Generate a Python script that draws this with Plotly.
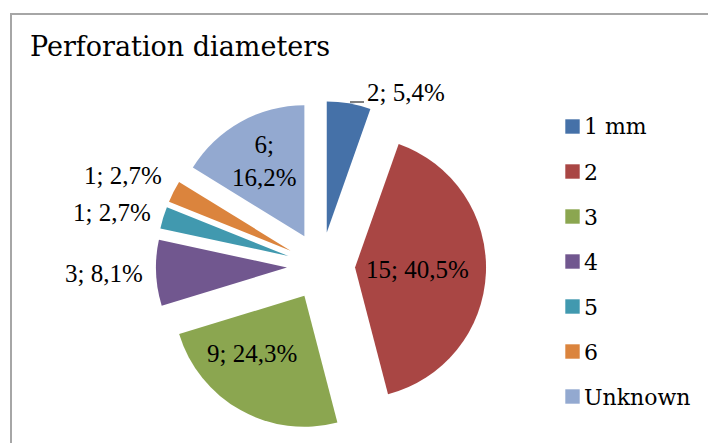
import plotly.graph_objects as go

# Perforation diameter counts
categories = ["1 mm", "2", "3", "4", "5", "6", "Unknown"]
counts = [2, 15, 9, 3, 1, 1, 6]
colors = ["#4571A8", "#A94644", "#8BA650", "#71578F", "#4199AF", "#DB843D", "#93A9D0"]

W, H = 708, 443

total = sum(counts)


def fmt_label(v):
    pct = f"{v / total * 100:.1f}".replace(".", ",")
    return f"{v}; {pct}%"


labels_txt = [fmt_label(v) for v in counts]
labels_txt[6] = labels_txt[6].replace(" ", "<br>", 1)

# exploded slices
pulls = [0.26] * len(counts)

# pie box in pixels: centre (321, 266), radius 131 after pull shrink
cx, cy, r = 321, 266, 131
half = r * (1 + max(pulls))
dom_x = [(cx - half) / W, (cx + half) / W]
dom_y = [1 - (cy + half) / H, 1 - (cy - half) / H]

fig = go.Figure(
    go.Pie(
        labels=categories,
        values=counts,
        marker=dict(colors=colors, line=dict(width=0)),
        sort=False,
        direction="clockwise",
        rotation=0,
        pull=pulls,
        textinfo="none",
        hoverinfo="label+value+percent",
        showlegend=False,
        domain=dict(x=dom_x, y=dom_y),
    )
)


def px(x):
    return x / W


def py(y):
    return 1 - y / H


# data label placement (pixels)
label_pos = [(406, 92), (417, 269), (252, 353), (104, 273), (112, 213), (123, 175), (264, 161)]
label_font = dict(family="Liberation Serif", size=25, color="#000000")

annotations = []
for txt, (lx, ly) in zip(labels_txt, label_pos):
    annotations.append(dict(
        x=px(lx), y=py(ly), xref="paper", yref="paper",
        text=txt, showarrow=False, xanchor="center", yanchor="middle",
        font=label_font, align="center",
    ))

# title
annotations.append(dict(
    x=px(28), y=py(47), xref="paper", yref="paper",
    text="Perforation diameters", showarrow=False,
    xanchor="left", yanchor="middle",
    font=dict(family="DejaVu Serif", size=27, color="#000000"),
))

shapes = [
    # chart frame
    dict(type="rect", xref="paper", yref="paper",
         x0=px(11), x1=px(730), y0=py(470), y1=py(14),
         line=dict(color="#A6A6A6", width=2), fillcolor="rgba(0,0,0,0)"),
    # leader line for the small first slice
    dict(type="line", xref="paper", yref="paper",
         x0=px(350), x1=px(364), y0=py(102), y1=py(102),
         line=dict(color="#000000", width=1)),
]

# legend
leg_y = [127, 172, 217, 262, 307, 352, 397]
for name, col, ly in zip(categories, colors, leg_y):
    shapes.append(dict(
        type="rect", xref="paper", yref="paper",
        x0=px(565), x1=px(580), y0=py(ly + 7), y1=py(ly - 8),
        fillcolor=col, line=dict(color="rgba(255,255,255,0.6)", width=1),
    ))
    annotations.append(dict(
        x=px(582), y=py(ly), xref="paper", yref="paper",
        text=name, showarrow=False, xanchor="left", yanchor="middle",
        font=dict(family="DejaVu Serif", size=22, color="#000000"),
    ))

fig.update_layout(
    width=W, height=H,
    margin=dict(l=0, r=0, t=0, b=0),
    paper_bgcolor="#FFFFFF",
    plot_bgcolor="#FFFFFF",
    annotations=annotations,
    shapes=shapes,
    showlegend=False,
)

fig.write_html("out.html")
